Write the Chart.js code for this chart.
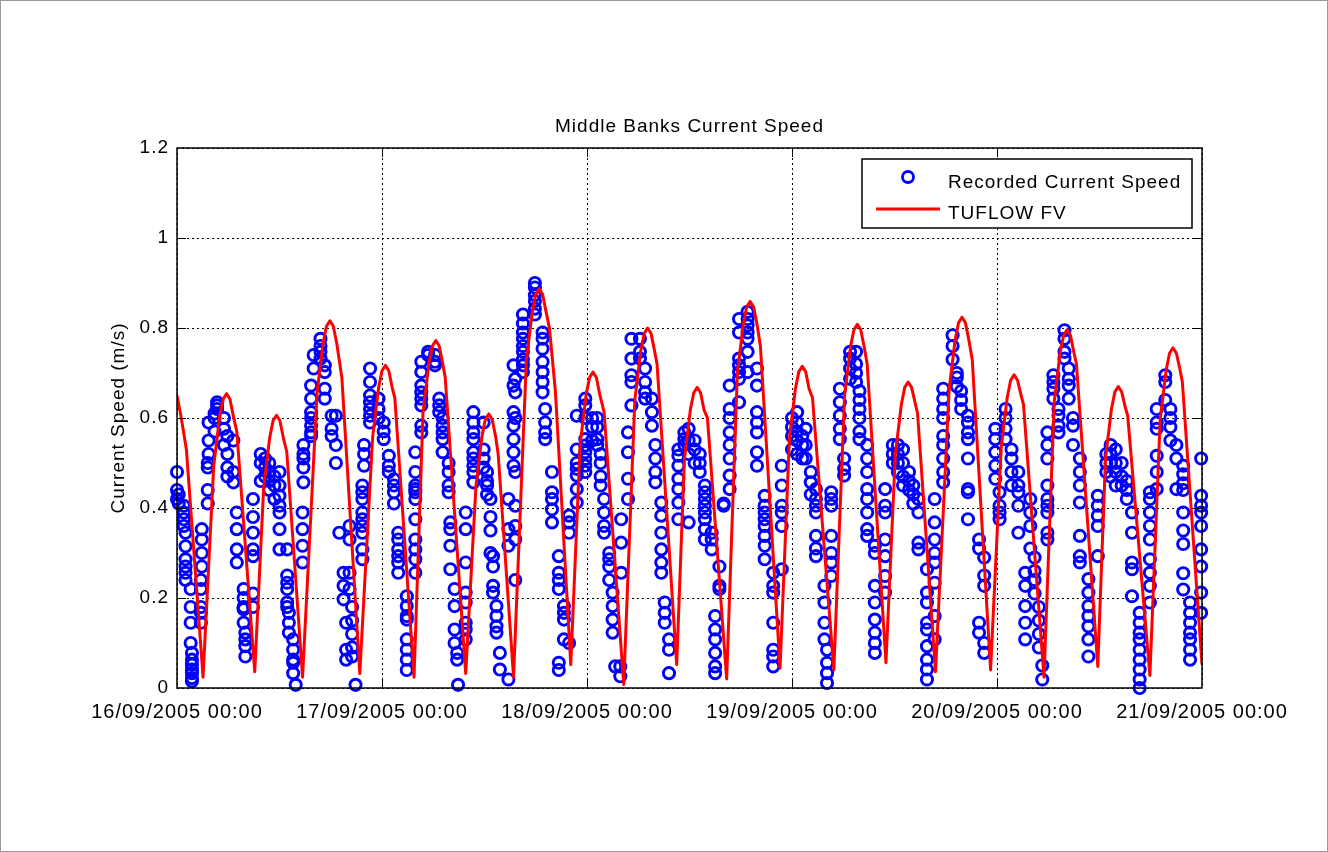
<!doctype html>
<html lang="en">
  <head>
    <meta charset="utf-8">
    <title>Middle Banks Current Speed</title>
    <style>
        *{
            box-sizing: border-box;
            margin:0;
            padding:0;
        }
        body{
            background-color:#fff;
        }
        .chartbox{
            width:1328px;
            height:852px;
        }
    </style>
  </head>
  <body>
    <div class="chartbox">
        <canvas id="myChart" width="1328" height="852"></canvas>
    </div>

    <script src="https://cdn.jsdelivr.net/npm/chart.js@4.4.0/dist/chart.umd.min.js"></script>
    <script>

// x axis is in hours from 16/09/2005 00:00
const dayLabels = ['16/09/2005 00:00','17/09/2005 00:00','18/09/2005 00:00','19/09/2005 00:00','20/09/2005 00:00','21/09/2005 00:00'];
const yTickLabels = ['0','0.2','0.4','0.6','0.8','1','1.2'];

// TUFLOW FV model
const modelHours = [0,0.5,1.1,3.05,
    4.3,5.0,5.4,5.8,6.2,6.6,7.0,9.1,
    10.15,10.85,11.25,11.65,12.05,12.45,12.85,14.7,
    16.4,17.1,17.5,17.9,18.3,18.7,19.3,21.4,
    22.9,23.6,24.0,24.4,24.8,25.2,25.5,27.75,
    28.8,29.5,29.9,30.3,30.7,31.1,31.4,33.8,
    35.0,35.7,36.1,36.5,36.9,37.3,37.6,39.4,
    40.9,41.6,42.0,42.4,42.8,43.2,43.6,44.3,46.1,
    47.2,47.9,48.3,48.7,49.1,49.5,50.0,52.3,
    53.6,54.3,54.7,55.1,55.5,55.9,56.2,58.5,
    59.4,60.1,60.5,60.9,61.3,61.7,62.1,64.35,
    65.6,66.3,66.7,67.1,67.5,67.9,68.3,70.6,
    71.7,72.4,72.8,73.2,73.6,74.0,74.4,76.9,
    78.15,78.85,79.25,79.65,80.05,80.45,80.8,83.0,
    84.1,84.8,85.2,85.6,86.0,86.4,86.7,88.8,
    90.4,91.1,91.5,91.9,92.3,92.7,93.1,95.25,
    96.5,97.2,97.6,98.0,98.4,98.8,99.1,101.5,
    102.7,103.4,103.8,104.2,104.6,105.0,105.3,107.8,
    108.7,109.4,109.8,110.2,110.6,111.0,111.3,113.9,
    115.1,115.8,116.2,116.6,117.0,117.4,117.7,120];
const modelSpeed = [0.65,0.60,0.53,0.024,
    0.494,0.604,0.642,0.654,0.642,0.604,0.57,0.036,
    0.446,0.556,0.594,0.606,0.594,0.556,0.525,0.024,
    0.656,0.766,0.804,0.816,0.804,0.766,0.69,0.032,
    0.557,0.667,0.705,0.717,0.705,0.667,0.645,0.024,
    0.612,0.722,0.76,0.772,0.76,0.722,0.69,0.032,
    0.449,0.559,0.597,0.609,0.597,0.559,0.52,0.024,
    0.727,0.837,0.875,0.887,0.875,0.837,0.80,0.66,0.052,
    0.542,0.652,0.69,0.702,0.69,0.652,0.613,0.008,
    0.64,0.75,0.788,0.80,0.788,0.75,0.72,0.052,
    0.508,0.618,0.656,0.668,0.656,0.618,0.60,0.02,
    0.699,0.809,0.847,0.859,0.847,0.809,0.76,0.044,
    0.555,0.665,0.703,0.715,0.703,0.665,0.645,0.04,
    0.648,0.758,0.796,0.808,0.796,0.758,0.72,0.056,
    0.52,0.63,0.668,0.68,0.668,0.635,0.61,0.036,
    0.664,0.774,0.812,0.824,0.812,0.774,0.73,0.04,
    0.536,0.646,0.684,0.696,0.684,0.652,0.63,0.024,
    0.636,0.746,0.784,0.796,0.784,0.746,0.72,0.048,
    0.51,0.62,0.658,0.67,0.658,0.625,0.605,0.028,
    0.596,0.706,0.744,0.756,0.744,0.71,0.68,0.052];

// Recorded current speed, grouped by the hour they were read at
const recHours = [0.0,0.2,0.8,1.0,1.6,1.75,2.8,2.9,3.6,3.7,4.4,4.7,5.5,5.9,6.6,7.0,7.8,8.0,8.9,9.8,10.3,10.8,11.4,12.0,12.9,13.1,13.6,13.9,
    14.7,14.8,15.7,16.0,16.8,17.3,18.1,18.6,19.0,19.5,19.8,20.2,20.5,20.9,21.7,21.9,22.6,23.6,24.2,24.8,25.4,25.9,26.9,27.9,28.6,29.4,
    30.2,30.7,31.1,31.8,32.0,32.5,32.8,32.9,33.8,34.7,35.9,36.3,36.7,37.0,37.4,37.8,38.8,39.4,39.6,40.5,41.9,42.8,43.1,43.9,44.7,45.3,
    45.9,46.8,47.8,48.6,49.2,49.6,50.0,50.6,51.0,51.3,51.9,52.0,52.8,53.2,54.2,54.8,55.6,56.0,56.7,57.1,57.6,58.7,59.4,59.9,60.6,61.2,
    61.8,62.6,63.0,63.5,64.0,64.7,65.8,66.8,67.9,68.8,69.8,70.8,72.0,72.6,73.2,73.6,74.2,74.8,75.8,76.1,76.6,77.6,78.1,78.8,79.5,79.9,
    80.8,81.7,82.9,83.8,84.4,85.0,85.7,86.2,86.8,87.8,88.7,89.7,90.8,91.3,91.8,92.6,93.9,94.5,95.8,96.3,97.0,97.7,98.5,99.3,99.9,100.4,
    100.9,101.3,101.9,102.6,103.2,103.9,104.4,104.9,105.7,106.7,107.8,108.8,109.3,109.9,110.6,111.2,111.8,112.7,113.9,114.7,115.7,116.3,
    117.0,117.8,118.6,119.9];
const recSpeeds = [
    [0.48,0.44,0.42],[0.43,0.41],[0.405,0.39,0.375,0.36],[0.345,0.315,0.286,0.27,0.256,0.24],[0.22,0.18,0.145,0.10],
    [0.078,0.063,0.052,0.041,0.033,0.022,0.015],[0.145,0.167,0.18,0.22,0.24],[0.27,0.30,0.33,0.353],[0.41,0.44,0.49,0.50],[0.52,0.55,0.59],
    [0.57,0.60,0.61],[0.628,0.635,0.62],[0.60,0.576,0.54],[0.52,0.49,0.47,0.56],[0.55,0.48,0.457],[0.39,0.353,0.308,0.279],
    [0.22,0.20,0.18,0.175,0.145],[0.123,0.108,0.093,0.07],[0.18,0.21,0.293,0.308,0.345,0.38,0.42],[0.46,0.50,0.52],[0.47,0.49,0.51],
    [0.44,0.46,0.48,0.50],[0.42,0.45,0.47],[0.48,0.45,0.427,0.405,0.39,0.353,0.308],[0.308,0.25,0.234,0.22,0.19,0.18],[0.167,0.145,0.123],
    [0.108,0.085,0.063,0.056,0.033],[0.007],
    [0.279,0.316,0.353,0.39],[0.457,0.49,0.51,0.52,0.54],[0.56,0.568,0.583,0.60,0.613,0.643,0.672],[0.71,0.74],[0.747,0.76,0.776,0.732],
    [0.717,0.702,0.665,0.643],[0.605,0.576,0.56],[0.54,0.50,0.605],[0.345],[0.256,0.227,0.197],[0.145,0.085,0.063],[0.36,0.33,0.256,0.22],
    [0.18,0.15,0.12,0.09,0.07],[0.007],[0.286,0.308,0.345,0.36,0.375,0.39,0.42,0.435,0.45],[0.494,0.52,0.54],[0.59,0.605,0.62,0.635,0.65,0.68,0.71],
    [0.643,0.62,0.60],[0.59,0.57,0.553],[0.516,0.494,0.48],[0.464,0.45,0.435,0.41],[0.345,0.33,0.308,0.293,0.279,0.256],
    [0.204,0.182,0.16,0.152,0.108,0.085,0.063,0.04],[0.256,0.286,0.308,0.33,0.375,0.42,0.435,0.442,0.45,0.48,0.524],
    [0.568,0.583,0.628,0.643,0.657,0.672,0.702,0.725],[0.747,0.74],
    [0.725,0.717,0.74],[0.643,0.628,0.613],[0.60,0.583,0.568,0.553,0.524],[0.50,0.48,0.45,0.435],[0.368,0.353,0.316,0.264],[0.22,0.182,0.13,0.10],
    [0.078,0.063],[0.007],[0.108,0.13,0.145,0.19,0.212,0.279,0.353,0.39],[0.457,0.48,0.494,0.51,0.524,0.553,0.568,0.59,0.613],[0.59,0.53,0.51,0.49],
    [0.48,0.46,0.45,0.43],[0.42,0.38,0.35,0.30],[0.293,0.27,0.227,0.212],[0.182,0.16,0.137,0.123],[0.078,0.041],[0.42,0.353,0.316,0.019],
    [0.717,0.672,0.613,0.583,0.553,0.524,0.494],[0.48,0.405,0.36,0.33,0.24,0.687,0.657,0.60],[0.702,0.717,0.73,0.747,0.76,0.776,0.79,0.81,0.83],
    [0.83,0.843,0.86,0.873,0.89,0.90],[0.79,0.776,0.754,0.725,0.702,0.68,0.657],[0.62,0.59,0.568,0.553],[0.48,0.435,0.42,0.397,0.368],
    [0.293,0.256,0.24,0.22,0.056,0.04],[0.182,0.167,0.152,0.108],
    [0.383,0.368,0.345,0.10],[0.412,0.442,0.472,0.487,0.50,0.53,0.605],[0.48,0.494,0.509,0.524,0.539,0.553,0.60,0.628,0.643],[0.60,0.58,0.55],
    [0.553,0.54,0.58,0.60],[0.52,0.50,0.47,0.45],[0.42,0.39,0.36,0.345],[0.30,0.286,0.27,0.24],[0.212,0.182,0.152,0.123],[0.048],
    [0.048,0.026],[0.375,0.323,0.256],[0.568,0.524,0.465,0.42],[0.776,0.732,0.695,0.68,0.628],[0.776,0.747,0.732],[0.71,0.68,0.657,0.643],
    [0.643,0.613,0.583],[0.54,0.51,0.48,0.457],[0.412,0.383,0.345,0.308,0.279,0.256],[0.19,0.167,0.145],[0.108,0.085,0.033],
    [0.53,0.516,0.494,0.465,0.442,0.412,0.375],[0.568,0.553,0.54],[0.576,0.55,0.52,0.368],[0.55,0.53,0.50],[0.52,0.50,0.48],
    [0.45,0.435,0.42,0.405,0.39,0.375,0.353,0.33],[0.345,0.33,0.308],[0.16,0.13,0.108,0.078,0.048,0.033],[0.27,0.227,0.22],[0.41,0.405],
    [0.672,0.62,0.60,0.568,0.54,0.51,0.472,0.442],[0.82,0.79,0.732,0.717,0.702,0.687,0.635],[0.836,0.82,0.806,0.79,0.776,0.747,0.702],
    [0.71,0.672,0.613,0.59,0.568,0.524,0.494],[0.427,0.405,0.39,0.375,0.36,0.338,0.316,0.286],[0.256,0.227,0.212,0.145,0.085,0.07,0.048],
    [0.494,0.45,0.405,0.39,0.36,0.264],[0.60,0.58,0.56,0.53],[0.613,0.59,0.57,0.55,0.52],[0.56,0.54,0.51],[0.576,0.54,0.51],[0.48,0.457,0.43],
    [0.442,0.42,0.405,0.39,0.338,0.31,0.293],[0.227,0.19,0.145,0.108],[0.085,0.056,0.033,0.011],[0.435,0.42,0.405,0.338,0.30,0.279,0.249],
    [0.665,0.635,0.605,0.576,0.553],[0.51,0.487,0.472],[0.747,0.732,0.71,0.687],[0.747,0.72,0.70,0.68],[0.66,0.64,0.62,0.60,0.57,0.553],
    [0.54,0.51,0.48,0.442,0.42,0.39,0.353,0.338],[0.316,0.30,0.227,0.19,0.152,0.123,0.10,0.078],[0.442,0.405,0.39,0.33,0.293,0.249,0.212],
    [0.50,0.52,0.54],[0.54,0.52,0.50,0.48],[0.53,0.50,0.47,0.45],[0.48,0.46,0.44],[0.45,0.43,0.41],[0.42,0.39,0.323,0.308],
    [0.264,0.212,0.19,0.145,0.13,0.093,0.063,0.041,0.019],[0.42,0.368,0.33,0.30,0.279,0.234,0.16,0.108],
    [0.665,0.643,0.62,0.60,0.56,0.54,0.51,0.48,0.457],[0.784,0.76,0.73],[0.70,0.69,0.67],[0.66,0.64,0.62],
    [0.605,0.59,0.568,0.553,0.51,0.442,0.435,0.375],[0.33,0.31,0.145,0.123],[0.29,0.25,0.227,0.10,0.078],[0.576,0.553,0.524,0.494,0.465],
    [0.435,0.405,0.39,0.375],[0.62,0.60,0.576,0.553],[0.53,0.51,0.48,0.45],[0.48,0.45,0.435,0.405,0.345],[0.256,0.227,0.182,0.145,0.108],
    [0.42,0.39,0.36,0.31],[0.29,0.26,0.24,0.21],
    [0.18,0.15,0.12,0.09],[0.05,0.019],[0.568,0.54,0.51,0.45,0.42,0.405,0.39,0.345,0.33],[0.695,0.68,0.665,0.643],[0.62,0.605,0.583,0.568],
    [0.795,0.776,0.747,0.732],[0.71,0.687,0.672,0.643],[0.60,0.583,0.54],[0.51,0.48,0.45,0.412,0.338,0.293,0.279],
    [0.242,0.212,0.182,0.16,0.137,0.108,0.07],[0.427,0.405,0.383,0.36,0.293],[0.52,0.50,0.48],[0.54,0.52,0.50,0.47],[0.53,0.50,0.48,0.45],
    [0.50,0.47,0.45],[0.46,0.44,0.42],[0.39,0.345,0.279,0.264,0.204],[0.167,0.145,0.123,0.108,0.085,0.063,0.041,0.019,0.0],
    [0.435,0.42,0.39,0.36,0.33,0.286,0.256,0.227,0.19],[0.62,0.59,0.576,0.516,0.48,0.442],[0.695,0.68,0.64],[0.62,0.60,0.58,0.55],
    [0.54,0.51,0.442],[0.494,0.475,0.455,0.44,0.39,0.35,0.32,0.255,0.219],[0.19,0.167,0.145,0.123,0.108,0.085,0.063],
    [0.51,0.427,0.405,0.39,0.36,0.308,0.27,0.212,0.167]
];

const modelPoints = modelHours.map((h, i) => ({x: h, y: modelSpeed[i]}));
const recPoints = [];
recHours.forEach((h, i) => {
    recSpeeds[i].forEach(v => recPoints.push({x: h, y: v}));
});

const FONT = "'Liberation Sans', Arial, Helvetica, sans-serif";
Chart.defaults.font.family = FONT;
Chart.defaults.font.size = 19;
Chart.defaults.color = '#000';

// draws the MATLAB style box, inward ticks, title, y label and legend
const matlabFrame = {
    id: 'matlabFrame',
    beforeDraw(chart) {
        const c = chart.ctx;
        c.save();
        c.fillStyle = '#fff';
        c.fillRect(0, 0, chart.width, chart.height);
        c.restore();
        c.letterSpacing = '1px';
    },
    afterDraw(chart) {
        const c = chart.ctx;
        const a = chart.chartArea;
        const xs = chart.scales.x, ys = chart.scales.y;
        c.save();
        c.strokeStyle = '#000';
        c.lineWidth = 1;
        c.beginPath();
        for (let d = 1; d < dayLabels.length - 1; d++) {
            const px = Math.round(xs.getPixelForValue(d * 24)) + 0.5;
            c.moveTo(px, a.bottom); c.lineTo(px, a.bottom - 9);
            c.moveTo(px, a.top); c.lineTo(px, a.top + 9);
        }
        for (let k = 1; k < yTickLabels.length - 1; k++) {
            const py = Math.round(ys.getPixelForValue(k * 0.2)) + 0.5;
            c.moveTo(a.left, py); c.lineTo(a.left + 9, py);
            c.moveTo(a.right, py); c.lineTo(a.right - 9, py);
        }
        c.stroke();
        c.lineWidth = 1.5;
        c.strokeRect(a.left, a.top, a.right - a.left, a.bottom - a.top);

        c.fillStyle = '#000';
        c.font = '19px ' + FONT;
        c.textAlign = 'center';
        c.textBaseline = 'middle';
        c.fillText('Middle Banks Current Speed', (a.left + a.right) / 2, 127);

        c.save();
        c.translate(119, (a.top + a.bottom) / 2);
        c.rotate(-Math.PI / 2);
        c.fillText('Current Speed (m/s)', 0, 0);
        c.restore();

        // legend
        c.fillStyle = '#fff';
        c.fillRect(862, 159, 330, 69);
        c.lineWidth = 1.5;
        c.strokeRect(862, 159, 330, 69);
        c.strokeStyle = '#0000ff';
        c.lineWidth = 2.8;
        c.beginPath();
        c.arc(908, 177, 5.5, 0, Math.PI * 2);
        c.stroke();
        c.strokeStyle = '#ff0000';
        c.lineWidth = 3;
        c.beginPath();
        c.moveTo(876, 209); c.lineTo(940, 209);
        c.stroke();
        c.fillStyle = '#000';
        c.textAlign = 'left';
        c.fillText('Recorded Current Speed', 948, 183);
        c.fillText('TUFLOW FV', 948, 214);

        c.strokeStyle = '#999';
        c.lineWidth = 1;
        c.strokeRect(0.5, 0.5, chart.width - 1, chart.height - 1);
        c.restore();
    }
};

const ctx = document.getElementById('myChart').getContext('2d');
const myChart = new Chart(ctx, {
    type: 'scatter',
    data: {
        datasets: [{
            type: 'line',
            label: 'TUFLOW FV',
            data: modelPoints,
            borderColor: '#ff0000',
            borderWidth: 3,
            borderJoinStyle: 'round',
            pointRadius: 0,
            tension: 0,
            fill: false,
            order: 0
        }, {
            label: 'Recorded Current Speed',
            data: recPoints,
            pointStyle: 'circle',
            pointRadius: 5.6,
            borderWidth: 2.9,
            borderColor: '#0000ff',
            backgroundColor: 'rgba(0,0,0,0)',
            clip: false,
            order: 1
        }]
    },
    options: {
        responsive: false,
        animation: false,
        devicePixelRatio: 1,
        layout: {padding: {left: 0, top: 148, right: 126, bottom: 0}},
        plugins: {
            legend: {display: false},
            title: {display: false},
            tooltip: {enabled: false}
        },
        scales: {
            x: {
                type: 'linear',
                min: 0,
                max: 120,
                afterFit(scale) { scale.height = 164; },
                grid: {color: '#000', lineWidth: 1, drawTicks: false},
                border: {display: false, dash: [2, 3]},
                ticks: {
                    stepSize: 24,
                    autoSkip: false,
                    maxRotation: 0,
                    minRotation: 0,
                    padding: 12,
                    font: {size: 20},
                    callback: (v) => dayLabels[Math.round(v / 24)]
                }
            },
            y: {
                min: 0,
                max: 1.2,
                afterFit(scale) { scale.width = 177; },
                grid: {color: '#000', lineWidth: 1, drawTicks: false},
                border: {display: false, dash: [2, 3]},
                ticks: {
                    stepSize: 0.2,
                    padding: 8,
                    callback: (v) => yTickLabels[Math.round(v / 0.2)]
                }
            }
        }
    },
    plugins: [matlabFrame]
});
      </script>
</body>
</html>
